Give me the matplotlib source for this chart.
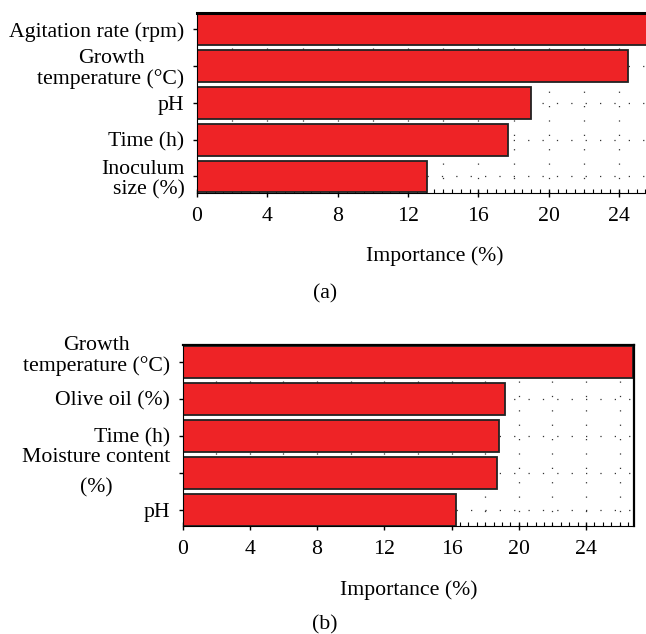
import matplotlib
matplotlib.use("Agg")
import matplotlib.pyplot as plt
from matplotlib.ticker import MultipleLocator
from matplotlib.transforms import offset_copy

# Panel (a): importance of growth factors
labels_a = ["Agitation rate (rpm)", "Growth\ntemperature (°C)", "pH", "Time (h)", "Inoculum\nsize (%)"]
values_a = [26.3, 24.5, 19.0, 17.7, 13.1]

# Panel (b)
labels_b = ["Growth\ntemperature (°C)", "Olive oil (%)", "Time (h)", "Moisture content\n(%)", "pH"]
values_b = [26.8, 19.2, 18.8, 18.7, 16.25]

x_ticks = [0, 4, 8, 12, 16, 20, 24]

plt.rcParams["font.family"] = ["Liberation Serif", "DejaVu Serif"]
plt.rcParams["font.size"] = 15.7

BAR_COLOR = "#ee2326"
DOTS = (0, (1, 10.5))

fig = plt.figure(figsize=(6.46, 6.34), dpi=100)
ax_a = fig.add_axes([0.305, 0.6956, 0.735, 0.284])
ax_b = fig.add_axes([0.2828, 0.1696, 0.6986, 0.2862])


def draw_panel(ax, labels, values, xmax):
    pos = list(range(len(labels)))
    # dotted grid drawn behind the bars
    for gx in range(2, int(xmax) + 1, 2):
        ax.axvline(gx, color="#333333", lw=0.9, ls=DOTS, zorder=0)
    for gy in pos:
        ax.axhline(gy, color="#333333", lw=0.9, ls=DOTS, zorder=0)
    ax.barh(pos, values, height=0.86, color=BAR_COLOR, edgecolor="#222222",
            linewidth=1.3, zorder=2)
    ax.set_xlim(0, xmax)
    ax.set_ylim(len(labels) - 0.55, -0.45)
    ax.set_yticks(pos)
    ax.set_yticklabels(labels)
    ax.set_xticks(x_ticks)
    ax.xaxis.set_minor_locator(MultipleLocator(0.5))
    ax.tick_params(axis="x", which="major", direction="inout", length=6, width=1, pad=7)
    ax.tick_params(axis="x", which="minor", direction="in", length=3, width=0.8)
    ax.tick_params(axis="y", direction="out", length=3, width=1, pad=6)
    ax.set_xlabel("Importance (%)", labelpad=15)
    for lab in ax.get_yticklabels():
        lab.set_multialignment("center")
        lab.set_linespacing(1.08)
    return ax


def raise_label(lab, pixels):
    lab.set_transform(offset_copy(lab.get_transform(), fig=fig, x=0, y=pixels, units="dots"))


draw_panel(ax_a, labels_a, values_a, 27.0)
ax_a.spines["right"].set_visible(False)
ax_a.spines["top"].set_linewidth(2.2)
ax_a.get_yticklabels()[4].set_multialignment("right")

draw_panel(ax_b, labels_b, values_b, 26.86)
ax_b.spines["right"].set_linewidth(1.6)
ax_b.spines["top"].set_linewidth(1.6)
ylabs_b = ax_b.get_yticklabels()
ylabs_b[3].set_linespacing(1.75)
raise_label(ylabs_b[0], 9)
raise_label(ylabs_b[3], 8)

fig.text(0.503, 0.537, "(a)", ha="center", va="center")
fig.text(0.503, 0.015, "(b)", ha="center", va="center")

fig.savefig("out.png", dpi=100)
